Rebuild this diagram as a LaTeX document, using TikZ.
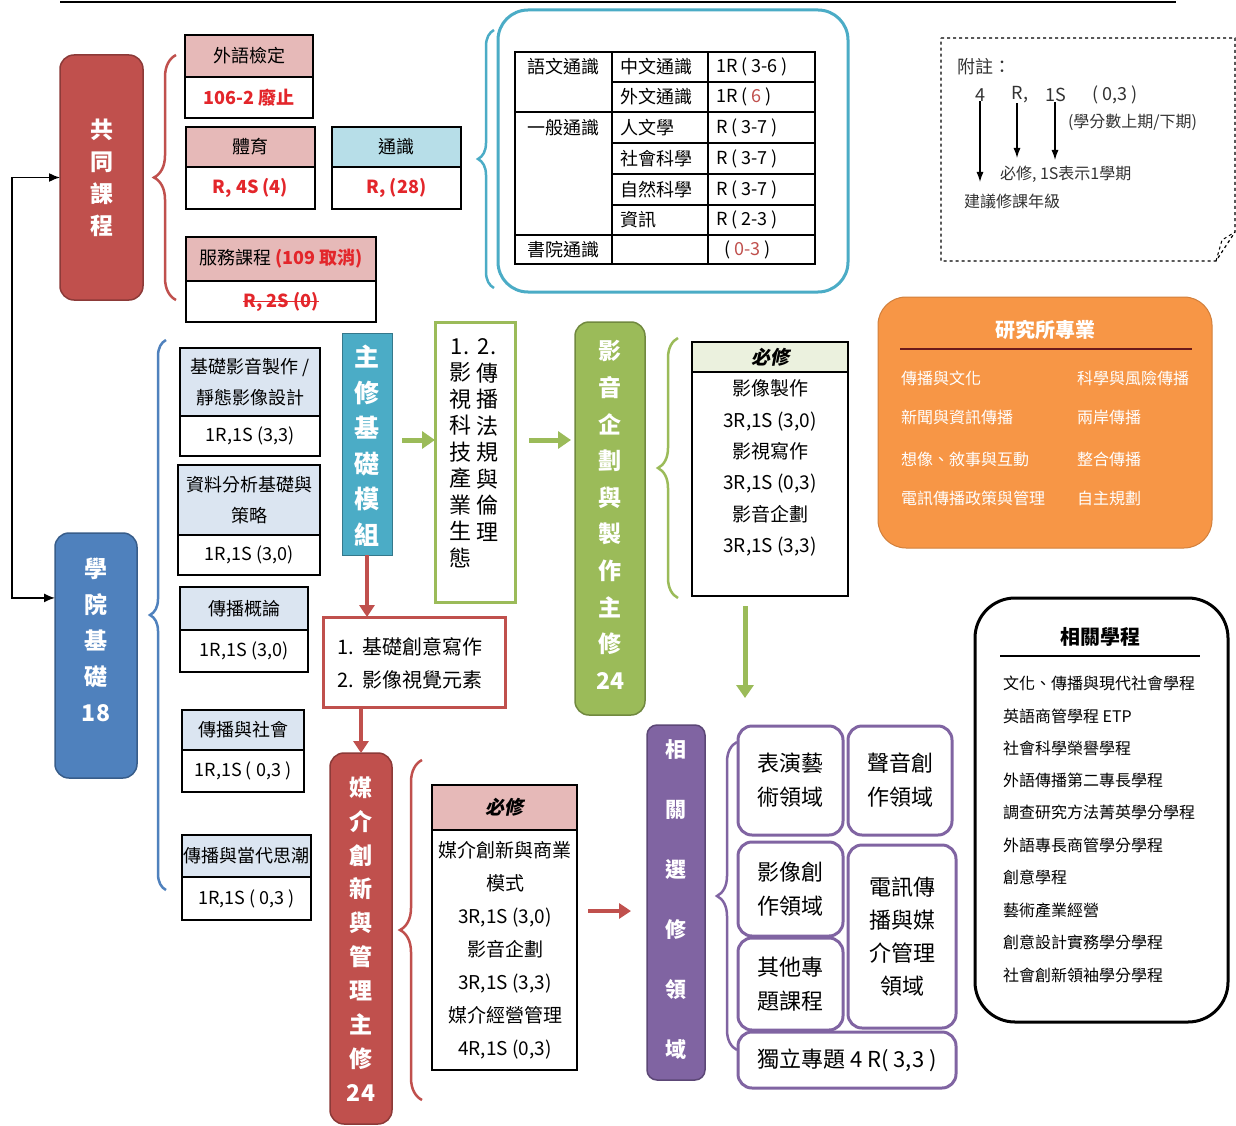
\documentclass[tikz,border=0pt]{standalone}
\usepackage{fontspec}
\setmainfont{Noto Sans CJK TC}
\newfontfamily\slcjk[FakeSlant=0.2]{Noto Sans CJK TC}
\usetikzlibrary{fit,calc,arrows.meta,decorations.pathreplacing}
\newcommand\fsz[2]{\fontsize{#1}{#2}\selectfont}
% \mkbox[text style]{box style}{name}{x1}{y1}{x2}{y2}{text}
\newcommand\mkbox[8][]{\node[fit={(#4,#5) (#6,#7)}, #2] (#3) {};\node[#1] (#3t) at (#3.center) {#8};}
\newcommand\mybrace[5]{\draw[#1, decorate, decoration={brace, amplitude=#5}] (#2,#4) -- (#2,#3);}
\definecolor{redF}{HTML}{C0504D}
\definecolor{redD}{HTML}{8C3A38}
\definecolor{blueF}{HTML}{4F81BD}
\definecolor{blueD}{HTML}{385D8A}
\definecolor{tealF}{HTML}{4BACC6}
\definecolor{greenF}{HTML}{9BBB59}
\definecolor{greenD}{HTML}{71893F}
\definecolor{purpF}{HTML}{8064A2}
\definecolor{purpD}{HTML}{5C4776}
\definecolor{orangeF}{HTML}{F79646}
\definecolor{redT}{HTML}{E3262B}
\definecolor{hpink}{HTML}{E6B9B8}
\definecolor{hblue}{HTML}{B7DEE8}
\definecolor{hgray}{HTML}{DBE5F1}
\definecolor{hgreen}{HTML}{EBF1DE}
\definecolor{darkline}{HTML}{6B1A1A}
\tikzset{
  every node/.style={inner sep=0pt, outer sep=0pt},
  cellb/.style={draw=black, line width=1.3pt, fill=white},
  pinkb/.style={cellb, fill=hpink},
  blueb/.style={cellb, fill=hblue},
  grayb/.style={cellb, fill=hgray},
  greenb/.style={cellb, fill=hgreen},
  tcell/.style={draw=black, line width=1.1pt, fill=white},
  ct/.style={align=center, font=\fsz{18}{31}},
  rt/.style={align=center, text=redT, font=\fsz{18}{22}\bfseries},
  tt/.style={anchor=west, font=\fsz{18}{22}},
  bx/.style={font=\fsz{19}{22}\slcjk\bfseries},
  vt/.style={text=white, align=center},
  redbox/.style={draw=redD, fill=redF, rounded corners=14pt, line width=1.5pt},
  bluebox/.style={draw=blueD, fill=blueF, rounded corners=14pt, line width=1.5pt},
  tealbox/.style={draw=tealF!70!black, fill=tealF, line width=0.8pt},
  greenbox/.style={draw=greenD, fill=greenF, rounded corners=14pt, line width=1.5pt},
  purpbox/.style={draw=purpD, fill=purpF, rounded corners=10pt, line width=1.5pt},
  pboxb/.style={draw=purpF, line width=3pt, fill=white, rounded corners=14pt},
  pt/.style={align=center, font=\fsz{22}{34}},
  garrow/.style={draw=greenF, line width=5pt, -{Triangle[length=13pt,width=17pt]}},
  rarrow/.style={draw=redF, line width=4pt, -{Triangle[length=12pt,width=15pt]}},
  brc/.style={line width=2.5pt},
  note/.style={text=black!80, font=\fsz{16}{20}},
  orit/.style={text=white, font=\fsz{16}{20}, anchor=west},
  prit/.style={text=black, font=\fsz{16}{20}, anchor=west},
}
\begin{document}
\begin{tikzpicture}[x=1pt,y=-1pt]
\useasboundingbox (0,0) rectangle (1236,1126);
\fill[white] (0,0) rectangle (1236,1126);
\draw[line width=1.8pt] (60,2) -- (1176,2);

% ---------- 共同課程 ----------
\mkbox[vt, font=\fsz{23}{32}\bfseries]{redbox}{gt}{60}{55}{143}{300}{共\\同\\課\\程}
\mybrace{draw=redF, brc}{176}{55}{300}{22pt}

\mkbox[ct]{pinkb}{wy}{185}{35}{313}{77}{外語檢定}
\mkbox[rt]{cellb}{wyv}{185}{77}{313}{118}{106-2 廢止}
\mkbox[ct]{pinkb}{ty}{186}{127}{315}{167}{體育}
\mkbox[rt]{cellb}{tyv}{186}{167}{315}{209}{R, 4S (4)}
\mkbox[ct]{blueb}{ts}{332}{127}{461}{167}{通識}
\mkbox[rt]{cellb}{tsv}{332}{167}{461}{209}{R, (28)}
\mkbox[ct]{pinkb}{fw}{186}{237}{376}{281}{服務課程 \textcolor{redT}{\bfseries(109 取消)}}
\mkbox[rt]{cellb}{fwv}{186}{281}{376}{322}{R, 2S (0)}
\draw[redT, line width=1.5pt] (fwvt.west) -- (fwvt.east);

% ---------- 通識 table ----------
\mybrace{draw=tealF, brc}{494}{30}{288}{16pt}
\node[fit={(498,10) (848,292)}, draw=tealF, line width=3pt, rounded corners=30pt] (gebox) {};
\node[fit={(515,52) (612,112)}, tcell] (ta) {};
\node[fit={(515,112) (612,235)}, tcell] (tg) {};
\node[fit={(515,235) (612,264)}, tcell] (th) {};
\node[fit={(612,52) (708,82)}, tcell] (tb1) {};
\node[fit={(612,82) (708,112)}, tcell] (tb2) {};
\node[fit={(612,112) (708,143)}, tcell] (tb3) {};
\node[fit={(612,143) (708,174)}, tcell] (tb4) {};
\node[fit={(612,174) (708,205)}, tcell] (tb5) {};
\node[fit={(612,205) (708,235)}, tcell] (tb6) {};
\node[fit={(612,235) (708,264)}, tcell] (tb7) {};
\node[fit={(708,52) (815,82)}, tcell] (tc1) {};
\node[fit={(708,82) (815,112)}, tcell] (tc2) {};
\node[fit={(708,112) (815,143)}, tcell] (tc3) {};
\node[fit={(708,143) (815,174)}, tcell] (tc4) {};
\node[fit={(708,174) (815,205)}, tcell] (tc5) {};
\node[fit={(708,205) (815,235)}, tcell] (tc6) {};
\node[fit={(708,235) (815,264)}, tcell] (tc7) {};
\node[font=\fsz{18}{22}] (tat) at (563,67) {語文通識};
\node[font=\fsz{18}{22}] (tgt) at (563,128) {一般通識};
\node[font=\fsz{18}{22}] (tht) at (ta.center |- th.center) {書院通識};
\node[tt] (tb1t) at (620,67) {中文通識};
\node[tt] (tb2t) at (620,97) {外文通識};
\node[tt] (tb3t) at (620,127.5) {人文學};
\node[tt] (tb4t) at (620,158.5) {社會科學};
\node[tt] (tb5t) at (620,189.5) {自然科學};
\node[tt] (tb6t) at (620,220) {資訊};
\node[tt] (tc1t) at (716,67) {1R ( 3-6 )};
\node[tt] (tc2t) at (716,97) {1R ( \textcolor{redF}{6} )};
\node[tt] (tc3t) at (716,127.5) {R ( 3-7 )};
\node[tt] (tc4t) at (716,158.5) {R ( 3-7 )};
\node[tt] (tc5t) at (716,189.5) {R ( 3-7 )};
\node[tt] (tc6t) at (716,220) {R ( 2-3 )};
\node[tt] (tc7t) at (724,249.5) {( \textcolor{redF}{0-3} )};

% ---------- 附註 ----------
\draw[dashed, line width=1.2pt] (941,38) -- (1235,38) -- (1235,232) -- (1216,261) -- (941,261) -- cycle;
\draw[dashed, line width=1pt] (1216,261) -- (1222,240) -- (1235,232);
\node[note, anchor=west, font=\fsz{18}{22}] (fz) at (957,67) {附註：};
\node[note, font=\fsz{18}{22}] (n4) at (980,95) {4};
\node[note, font=\fsz{18}{22}] (nR) at (1020,95) {R,};
\node[note, font=\fsz{18}{22}] (n1S) at (1056,95) {1S};
\node[note, font=\fsz{18}{22}] (n03) at (1115,95) {( 0,3 )};
\node[note, anchor=west] (nxf) at (1068,122) {(學分數上期/下期)};
\node[note, anchor=west] (nbx) at (1000,174) {必修, 1S表示1學期};
\node[note, anchor=west] (njy) at (964,201) {建議修課年級};
\coordinate (e4) at (980,182);
\coordinate (eR) at (1017,158);
\coordinate (e1S) at (1055,160);
\draw[line width=1.2pt, -{Latex[length=10pt,width=7pt]}] (n4.south) -- (e4);
\draw[line width=1.2pt, -{Latex[length=10pt,width=7pt]}] (nR.south -| eR) -- (eR);
\draw[line width=1.2pt, -{Latex[length=10pt,width=7pt]}] (n1S.south -| e1S) -- (e1S);

% ---------- 研究所專業 ----------
\node[fit={(878,297) (1212,548)}, fill=orangeF, draw=orangeF!85!black, line width=1pt, rounded corners=28pt] (grad) {};
\node[text=white, font=\fsz{20}{24}\bfseries] (gradt) at (1045,330) {研究所專業};
\draw[darkline, line width=1.5pt] (900,349) -- (1192,349);
\node[orit] (o1) at (901,378) {傳播與文化};
\node[orit] (o2) at (901,417) {新聞與資訊傳播};
\node[orit] (o3) at (901,459) {想像、敘事與互動};
\node[orit] (o4) at (901,498) {電訊傳播政策與管理};
\node[orit] (o5) at (1077,378) {科學與風險傳播};
\node[orit] (o6) at (1077,417) {兩岸傳播};
\node[orit] (o7) at (1077,459) {整合傳播};
\node[orit] (o8) at (1077,498) {自主規劃};

% ---------- 相關學程 ----------
\node[fit={(975,598) (1228,1022)}, draw=black, line width=3pt, fill=white, rounded corners=40pt] (prog) {};
\node[font=\fsz{20}{24}\bfseries] (progt) at (1100,637) {相關學程};
\draw[line width=1.3pt] (1000,656) -- (1200,656);
\node[prit] (p01) at (1003,683) {文化、傳播與現代社會學程};
\node[prit] (p02) at (1003,716) {英語商管學程 ETP};
\node[prit] (p03) at (1003,748) {社會科學榮譽學程};
\node[prit] (p04) at (1003,780) {外語傳播第二專長學程};
\node[prit] (p05) at (1003,812) {調查研究方法菁英學分學程};
\node[prit] (p06) at (1003,845) {外語專長商管學分學程};
\node[prit] (p07) at (1003,877) {創意學程};
\node[prit] (p08) at (1003,910) {藝術產業經營};
\node[prit] (p09) at (1003,942) {創意設計實務學分學程};
\node[prit] (p10) at (1003,975) {社會創新領袖學分學程};

% ---------- 學院基礎 ----------
\node[fit={(55,533) (137,778)}, bluebox] (col) {};
\node[vt, font=\fsz{23}{36}\bfseries] (colt) at (96,640) {學\\院\\基\\礎\\18};
\coordinate (lk) at (12,386);
\coordinate (colw) at ($(col.north west)!0.265!(col.south west)$);
\draw[line width=1.5pt, {Latex[length=11pt,width=9pt]}-{Latex[length=11pt,width=9pt]}] (gt.west) -| (lk) |- (colw);
\mybrace{draw=blueF, brc}{166}{340}{890}{16pt}

\mkbox[ct]{grayb}{ca}{180}{348}{320}{416}{基礎影音製作 /\\靜態影像設計}
\mkbox[ct]{cellb}{cav}{180}{416}{320}{456}{1R,1S (3,3)}
\mkbox[ct]{grayb}{cb}{178}{465}{320}{535}{資料分析基礎與\\策略}
\mkbox[ct]{cellb}{cbv}{178}{535}{320}{575}{1R,1S (3,0)}
\mkbox[ct]{grayb}{cc}{180}{587}{308}{630}{傳播概論}
\mkbox[ct]{cellb}{ccv}{180}{630}{308}{672}{1R,1S (3,0)}
\mkbox[ct]{grayb}{cd}{182}{710}{304}{750}{傳播與社會}
\mkbox[ct]{cellb}{cdv}{182}{750}{304}{792}{1R,1S ( 0,3 )}
\mkbox[ct]{grayb}{ce}{182}{835}{311}{877}{傳播與當代思潮}
\mkbox[ct]{cellb}{cev}{182}{877}{311}{920}{1R,1S ( 0,3 )}

% ---------- 主修基礎模組 ----------
\node[fit={(342,333) (392,555)}, tealbox] (zx) {};
\node[vt, font=\fsz{25}{35.5}\bfseries] (zxt) at (367,446) {主\\修\\基\\礎\\模\\組};

\node[fit={(435,322) (515,602)}, draw=greenF, line width=3pt, fill=white] (g1) {};
\node[align=center, font=\fsz{22}{26.5}] (g1l) at (460,453) {1.\\影\\視\\科\\技\\產\\業\\生\\態};
\node[align=center, font=\fsz{22}{26.5}] (g1r) at (487,440) {2.\\傳\\播\\法\\規\\與\\倫\\理};
\draw[garrow] ($(zx.east |- 0,440)+(10,0)$) -- (g1.west |- 0,440);

% ---------- 影音企劃與製作主修 ----------
\node[fit={(575,322) (645,715)}, greenbox] (yy) {};
\node[vt, font=\fsz{23}{36.6}\bfseries] (yyt) at (610,515) {影\\音\\企\\劃\\與\\製\\作\\主\\修\\24};
\draw[garrow] ($(g1.east |- 0,440)+(14,0)$) -- ($(yy.west |- 0,440)+(-4,0)$);
\mybrace{draw=greenF, brc}{678}{338}{598}{20pt}

\mkbox[bx]{greenb}{gh}{692}{342}{848}{372}{必修}
\node[fit={(692,372) (848,596)}, cellb] (gb) {};
\node[align=center, font=\fsz{19}{31.4}] (gbt) at (770,468) {影像製作\\3R,1S (3,0)\\影視寫作\\3R,1S (0,3)\\影音企劃\\3R,1S (3,3)};
\coordinate (ga3) at (745,698);
\draw[garrow] ($(gb.south -| ga3)+(0,10)$) -- (ga3);

% ---------- 媒介創新 ----------
\node[fit={(323,617) (505,707)}, draw=redF, line width=3pt, fill=white] (r1) {};
\node[align=left, font=\fsz{20}{33}, anchor=west] (r1t) at (337,663) {1.\ \ 基礎創意寫作\\2.\ \ 影像視覺元素};
\draw[rarrow] (zx.south) -- (zx.south |- r1.north);
\node[fit={(330,753) (392,1124)}, redbox] (mj) {};
\draw[rarrow] (r1.south -| mj.north) -- (mj.north);
\node[vt, font=\fsz{23}{33.9}\bfseries] (mjt) at (361,939) {媒\\介\\創\\新\\與\\管\\理\\主\\修\\24};
\mybrace{draw=redF, brc}{422}{760}{1100}{22pt}

\mkbox[bx]{pinkb}{mh}{432}{785}{577}{830}{必修}
\node[fit={(432,830) (577,1070)}, cellb] (mb) {};
\node[align=center, font=\fsz{19}{33}] (mbt) at (505,950) {媒介創新與商業\\模式\\3R,1S (3,0)\\影音企劃\\3R,1S (3,3)\\媒介經營管理\\4R,1S (0,3)};
\coordinate (ra) at (631,911);
\draw[rarrow] ($(mb.east |- ra)+(11,0)$) -- (ra);

% ---------- 相關選修領域 ----------
\node[fit={(647,725) (705,1080)}, purpbox] (pv) {};
\node[vt, font=\fsz{21}{60}\bfseries] (pvt) at (676,900) {相\\關\\選\\修\\領\\域};
\mybrace{draw=purpF, brc}{737}{742}{1050}{20pt}
\mkbox[pt]{pboxb}{q1}{738}{726}{843}{835}{表演藝\\術領域}
\mkbox[pt]{pboxb}{q2}{848}{726}{952}{835}{聲音創\\作領域}
\mkbox[pt]{pboxb}{q3}{738}{842}{843}{936}{影像創\\作領域}
\mkbox[pt, font=\fsz{22}{33}]{pboxb}{q4}{848}{845}{956}{1028}{電訊傳\\播與媒\\介管理\\領域}
\mkbox[pt]{pboxb}{q5}{738}{938}{843}{1030}{其他專\\題課程}
\mkbox[pt]{pboxb}{q6}{738}{1032}{956}{1088}{獨立專題 4 R( 3,3 )}
\end{tikzpicture}
\end{document}
